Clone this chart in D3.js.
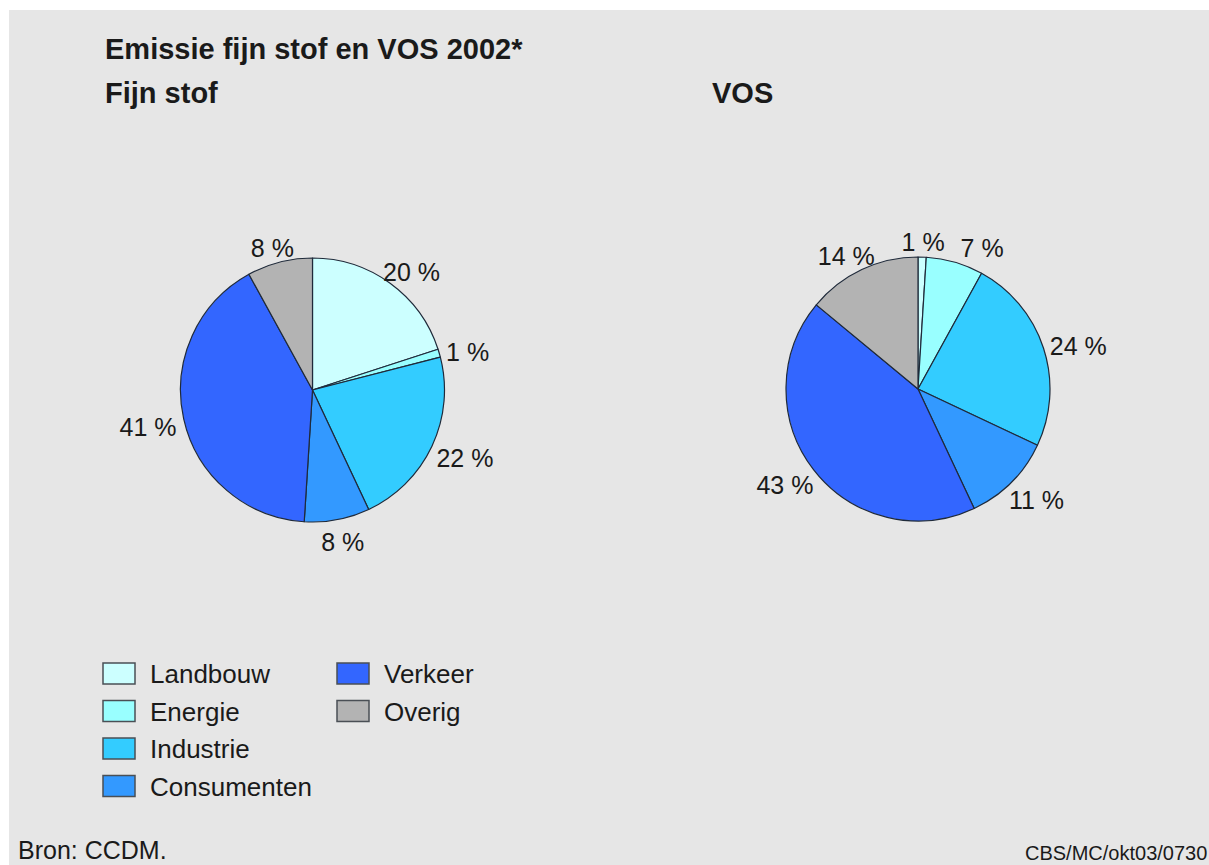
<!DOCTYPE html>
<html>
<head>
<meta charset="utf-8">
<script src="https://cdn.jsdelivr.net/npm/d3@7"></script>
<style>
  html, body { margin: 0; padding: 0; background: #ffffff; }
  svg { display: block; }
  text { font-family: "Liberation Sans", Arial, sans-serif; fill: #1a1a1a; }
</style>
</head>
<body>
<div id="chart"></div>
<script>
// ---- data ----
const categories = ["Landbouw", "Energie", "Industrie", "Consumenten", "Verkeer", "Overig"];
const fijnStofValues = [20, 1, 22, 8, 41, 8];
const vosValues = [1, 7, 24, 11, 43, 14];
const pieTitles = ["Fijn stof", "VOS"];
const mainTitle = "Emissie fijn stof en VOS 2002*";
const sourceText = "Bron: CCDM.";
const codeText = "CBS/MC/okt03/0730";
const colors = ["#ccffff", "#99ffff", "#33ccff", "#3399ff", "#3366ff", "#b3b3b3"];

// ---- layout ----
const W = 1209, H = 865;
const svg = d3.select("#chart").append("svg").attr("width", W).attr("height", H);

svg.append("rect").attr("x", 9).attr("y", 10).attr("width", W - 9).attr("height", H - 10)
  .attr("fill", "#e6e6e6");

svg.append("text").attr("x", 105).attr("y", 59)
  .style("font-size", "29px").style("font-weight", "bold").text(mainTitle);

const color = d3.scaleOrdinal().domain(categories).range(colors);

const pies = [
  { title: pieTitles[0], values: fijnStofValues, cx: 312.5, cy: 390, titleX: 105 },
  { title: pieTitles[1], values: vosValues, cx: 918, cy: 389, titleX: 712 }
];
const R = 132;
const pie = d3.pie().sort(null).value(d => d.value);
const arc = d3.arc().innerRadius(0).outerRadius(R);

pies.forEach(p => {
  svg.append("text").attr("x", p.titleX).attr("y", 103)
    .style("font-size", "29px").style("font-weight", "bold").text(p.title);

  const data = categories.map((c, i) => ({ cat: c, value: p.values[i] }));
  const g = svg.append("g").attr("transform", `translate(${p.cx},${p.cy})`);
  const arcs = pie(data);

  g.selectAll("path").data(arcs).enter().append("path")
    .attr("d", arc)
    .attr("fill", d => color(d.data.cat))
    .attr("stroke", "#1f2a3a")
    .attr("stroke-width", 1.2)
    .attr("stroke-linejoin", "round");

  const fs = 25, capH = fs * 0.716, boxH = capH + 4;
  let prev = null;
  arcs.forEach(d => {
    const a = (d.startAngle + d.endAngle) / 2;
    const sx = Math.sin(a), cy = -Math.cos(a);
    const R0 = R + 8;
    const t = g.append("text").style("font-size", fs + "px")
      .attr("text-anchor", "middle").text(d.data.value + " %");
    const w = t.node().getComputedTextLength();
    let x = R0 * sx + sx * w / 2;
    const y = R0 * cy + cy * boxH / 2 + 4;
    // simple overlap avoidance with the previous label
    if (prev && Math.abs(prev.y - y) < boxH && x - w / 2 < prev.x + prev.w / 2 + 16 && x > prev.x) {
      x = prev.x + prev.w / 2 + 16 + w / 2;
    }
    t.attr("x", x).attr("y", y + capH / 2);
    prev = { x, y, w };
  });
});

// ---- legend ----
const legendCols = [103, 337];
const rowStep = 37.5;
const legendTop = 663;
categories.forEach((c, i) => {
  const col = i < 4 ? 0 : 1;
  const row = i < 4 ? i : i - 4;
  const x = legendCols[col];
  const y = legendTop + row * rowStep;
  svg.append("rect").attr("x", x).attr("y", y).attr("width", 32).attr("height", 21)
    .attr("fill", color(c)).attr("stroke", "#4a4f55").attr("stroke-width", 1.5);
  svg.append("text").attr("x", x + 47).attr("y", y + 20)
    .style("font-size", "26px").text(c);
});

svg.append("text").attr("x", 18).attr("y", 859).style("font-size", "25px").text(sourceText);
svg.append("text").attr("x", 1025).attr("y", 860).style("font-size", "20px").text(codeText);
</script>
</body>
</html>
